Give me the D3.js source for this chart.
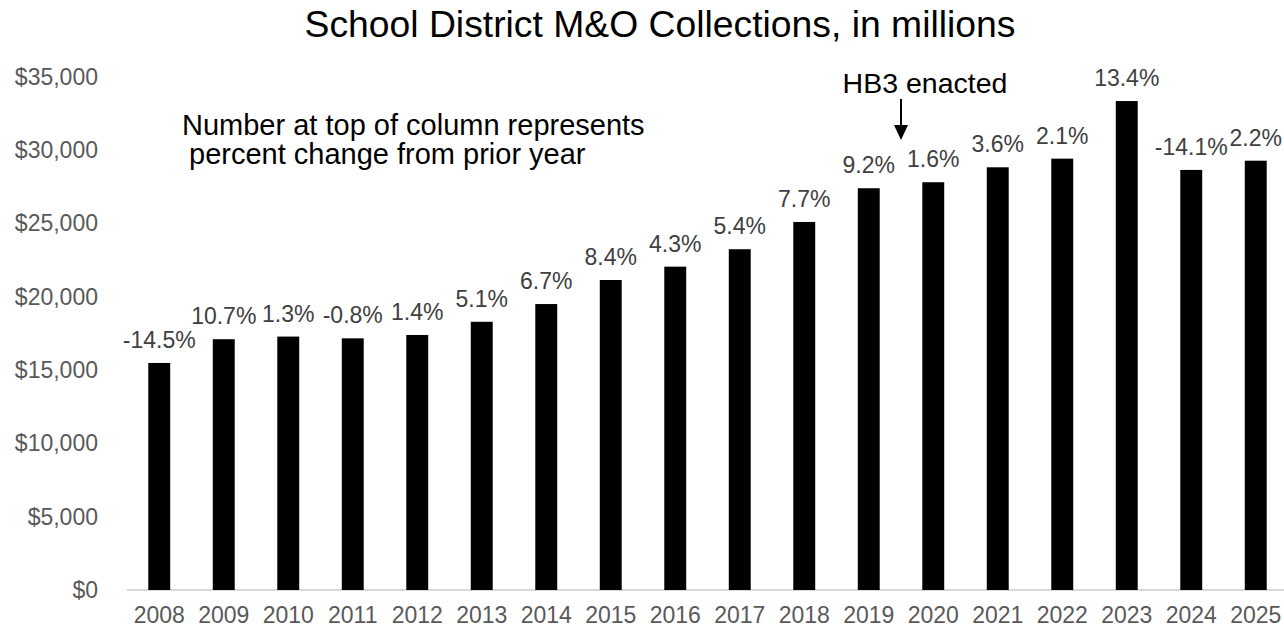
<!DOCTYPE html>
<html>
<head>
<meta charset="utf-8">
<script src="https://cdn.jsdelivr.net/npm/d3@7"></script>
<style>
  body { margin: 0; background: #fff; }
  svg { display: block; font-family: "Liberation Sans", Arial, sans-serif; }
  .tick text { fill: #595959; font-size: 23px; }
  .tick line, .domain { display: none; }
</style>
</head>
<body>
<div id="chart"></div>
<script>
// years and M&O collections (millions)
const years = ["2008", "2009", "2010", "2011", "2012", "2013", "2014", "2015", "2016",
  "2017", "2018", "2019", "2020", "2021", "2022", "2023", "2024", "2025"];
const collections = [15490, 17110, 17290, 17170, 17400, 18300, 19510, 21150, 22060,
  23250, 25110, 27410, 27820, 28840, 29430, 33360, 28660, 29290];
const changeLabels = ["-14.5%", "10.7%", "1.3%", "-0.8%", "1.4%", "5.1%", "6.7%", "8.4%", "4.3%",
  "5.4%", "7.7%", "9.2%", "1.6%", "3.6%", "2.1%", "13.4%", "-14.1%", "2.2%"];
const yTicks = [0, 5000, 10000, 15000, 20000, 25000, 30000, 35000];

// chart parameters
const width = 1284,
  height = 629,
  padLeft = 127,
  padRight = 1288,
  padTop = 77,
  padBtm = 590;

const dataset = years.map((y, i) => ({ year: y, value: collections[i], label: changeLabels[i] }));

const svg = d3.select("#chart")
  .append("svg")
  .attr("width", width)
  .attr("height", height);

const xScale = d3.scaleBand()
  .domain(years)
  .range([padLeft, padRight])
  .paddingInner(0.66)
  .paddingOuter(0.33);

const yScale = d3.scaleLinear()
  .domain([0, 35000])
  .range([padBtm, padTop]);

// title
svg.append("text")
  .attr("x", 660)
  .attr("y", 37)
  .attr("text-anchor", "middle")
  .style("font-size", "37.3px")
  .style("fill", "#000")
  .text("School District M&O Collections, in millions");

// y axis (labels only)
svg.append("g")
  .attr("class", "y axis")
  .attr("transform", "translate(98,0)")
  .call(d3.axisLeft(yScale).tickValues(yTicks).tickSize(0).tickPadding(0)
    .tickFormat(d => "$" + d3.format(",")(d)));

// baseline
svg.append("line")
  .attr("x1", padLeft)
  .attr("x2", width)
  .attr("y1", yScale(0))
  .attr("y2", yScale(0))
  .style("stroke", "#d9d9d9")
  .style("stroke-width", 2);

// x axis labels
svg.append("g")
  .attr("class", "x axis")
  .attr("transform", "translate(0," + padBtm + ")")
  .call(d3.axisBottom(xScale).tickSize(0).tickPadding(17));

// bars
svg.append("g")
  .selectAll("rect")
  .data(dataset)
  .enter()
  .append("rect")
  .attr("x", d => xScale(d.year))
  .attr("y", d => yScale(d.value))
  .attr("width", xScale.bandwidth())
  .attr("height", d => yScale(0) - yScale(d.value))
  .style("fill", "#000");

// percent change labels
svg.append("g")
  .selectAll("text")
  .data(dataset)
  .enter()
  .append("text")
  .attr("x", d => xScale(d.year) + xScale.bandwidth() / 2)
  .attr("y", d => yScale(d.value) - 15)
  .attr("text-anchor", "middle")
  .style("font-size", "23px")
  .style("fill", "#404040")
  .text(d => d.label);

// note
const note = svg.append("text")
  .style("font-size", "29px")
  .style("fill", "#000");
note.append("tspan").attr("x", 182).attr("y", 135).text("Number at top of column represents");
note.append("tspan").attr("x", 189).attr("y", 164).text("percent change from prior year");

// HB3 annotation, between 2019 and 2020
const hbX = (xScale("2019") + xScale("2020")) / 2 + xScale.bandwidth() / 2;
svg.append("text")
  .attr("x", hbX + 24)
  .attr("y", 93)
  .attr("text-anchor", "middle")
  .style("font-size", "28.5px")
  .style("fill", "#000")
  .text("HB3 enacted");
svg.append("line")
  .attr("x1", hbX)
  .attr("x2", hbX)
  .attr("y1", 99)
  .attr("y2", 128)
  .style("stroke", "#000")
  .style("stroke-width", 2);
svg.append("path")
  .attr("d", `M${hbX - 7},125 L${hbX + 7},125 L${hbX},140 Z`)
  .style("fill", "#000");
</script>
</body>
</html>
